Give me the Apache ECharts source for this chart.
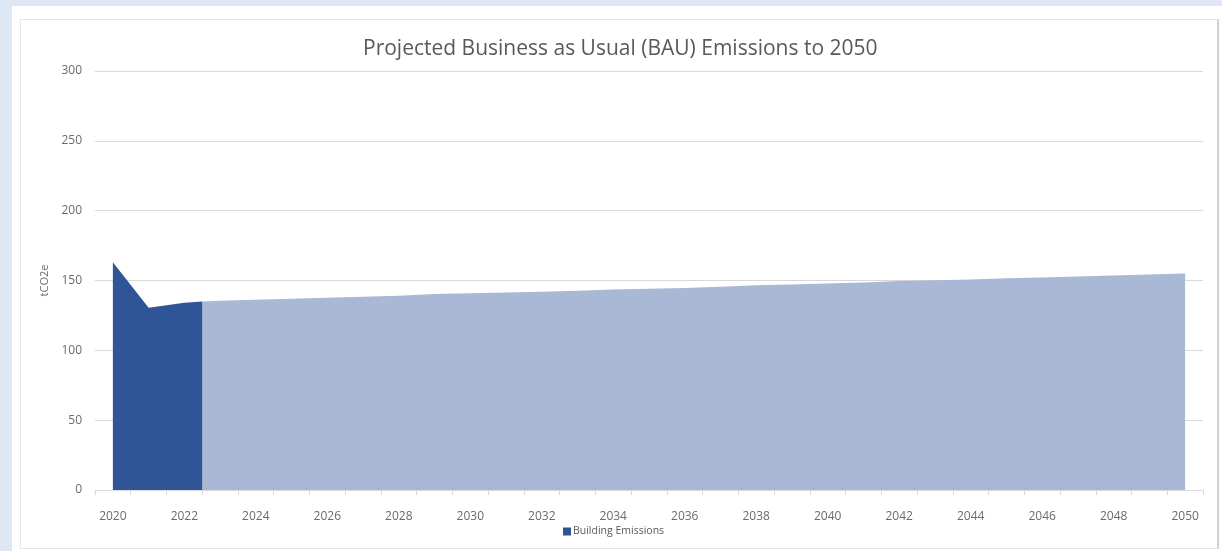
<!DOCTYPE html>
<html>
<head>
<meta charset="utf-8">
<script src="https://cdn.jsdelivr.net/npm/echarts@6/dist/echarts.min.js"></script>
<style>
  html, body { margin: 0; padding: 0; width: 1222px; height: 551px; overflow: hidden; background: #dde8f4; }
  #paper { position: absolute; left: 12px; top: 6px; right: 0; bottom: 0; background: #ffffff; }
  #frame { position: absolute; left: 20px; top: 19px; width: 1196px; height: 528px; border: 1px solid #e6e6e6; border-right: 2px solid #d0d0d0; }
  #chart { position: absolute; left: 0; top: 0; width: 1222px; height: 551px; }
</style>
</head>
<body>
<div id="paper"></div>
<div id="frame"></div>
<div id="chart"></div>
<script>
// ---- data ----
const categories = ['2020','2021','2022','2023','2024','2025','2026','2027','2028','2029','2030','2031','2032','2033','2034','2035','2036','2037','2038','2039','2040','2041','2042','2043','2044','2045','2046','2047','2048','2049','2050'];
const actualYears  = [2020, 2021, 2022, 2022.5];
const actualValues = [163, 130.5, 134, 135];
const bauYears  = [2022.5, 2023, 2024, 2025, 2026, 2027, 2028, 2029, 2030, 2031, 2032, 2033, 2034, 2035, 2036, 2037, 2038, 2039, 2040, 2041, 2042, 2043, 2044, 2045, 2046, 2047, 2048, 2049, 2050];
const bauValues = [135, 135.5, 136.3, 137, 137.6, 138.3, 139, 140.3, 140.8, 141.4, 142, 142.7, 143.5, 144.1, 144.7, 145.5, 146.6, 147.2, 147.8, 148.5, 149.6, 150.2, 150.8, 151.6, 152.2, 152.8, 153.5, 154.3, 155];
const yTicks = { min: 0, max: 300, interval: 50 };

const FONT = '"Open Sans", sans-serif';
const TXT = '#595959';
const LBL = '#6b6b6b';
const GRIDC = '#d9d9d9';

const chart = echarts.init(document.getElementById('chart'), null, { renderer: 'canvas' });
chart.setOption({
  backgroundColor: 'transparent',
  animation: false,
  textStyle: { fontFamily: FONT },
  title: {
    text: 'Projected Business as Usual (BAU) Emissions to 2050',
    left: 358, top: 34,
    textStyle: { fontFamily: FONT, fontSize: 21, fontWeight: 'normal', color: TXT }
  },
  legend: {
    data: ['Building Emissions'],
    left: 558, top: 521,
    icon: 'rect', itemWidth: 8, itemHeight: 8, itemGap: 10,
    textStyle: { fontFamily: FONT, fontSize: 10.5, color: TXT, padding: [0,0,0,-3] }
  },
  grid: { left: 95, right: 19, top: 71, bottom: 61, containLabel: false },
  xAxis: [
    { type: 'value', min: 2019.5, max: 2050.5, show: false },
    {
      type: 'category', data: categories, boundaryGap: true, position: 'bottom',
      axisLine: { show: true, lineStyle: { color: GRIDC, width: 1 } },
      axisTick: { show: true, interval: 0, length: 5, lineStyle: { color: GRIDC } },
      axisLabel: { interval: 1, color: LBL, fontSize: 12, fontFamily: FONT, margin: 21 },
      splitLine: { show: false }
    }
  ],
  yAxis: {
    type: 'value', min: yTicks.min, max: yTicks.max, interval: yTicks.interval,
    name: 'tCO2e', nameLocation: 'middle', nameRotate: 90, nameGap: 41,
    nameTextStyle: { fontFamily: FONT, fontSize: 11, color: LBL },
    axisLine: { show: false }, axisTick: { show: false },
    axisLabel: { color: LBL, fontSize: 12, fontFamily: FONT, margin: 13 },
    splitLine: { lineStyle: { color: GRIDC, width: 1 } }
  },
  series: [
    {
      name: 'BAU Projection', type: 'line', xAxisIndex: 0,
      data: bauYears.map((y, i) => [y, bauValues[i]]),
      symbol: 'none', lineStyle: { width: 0 },
      itemStyle: { color: '#a9b8d4' },
      areaStyle: { color: '#a9b8d4', opacity: 1 }
    },
    {
      name: 'Building Emissions', type: 'line', xAxisIndex: 0,
      data: actualYears.map((y, i) => [y, actualValues[i]]),
      symbol: 'none', lineStyle: { width: 0 },
      itemStyle: { color: '#2f5597' },
      areaStyle: { color: '#2f5597', opacity: 1 }
    }
  ]
});
</script>
</body>
</html>
